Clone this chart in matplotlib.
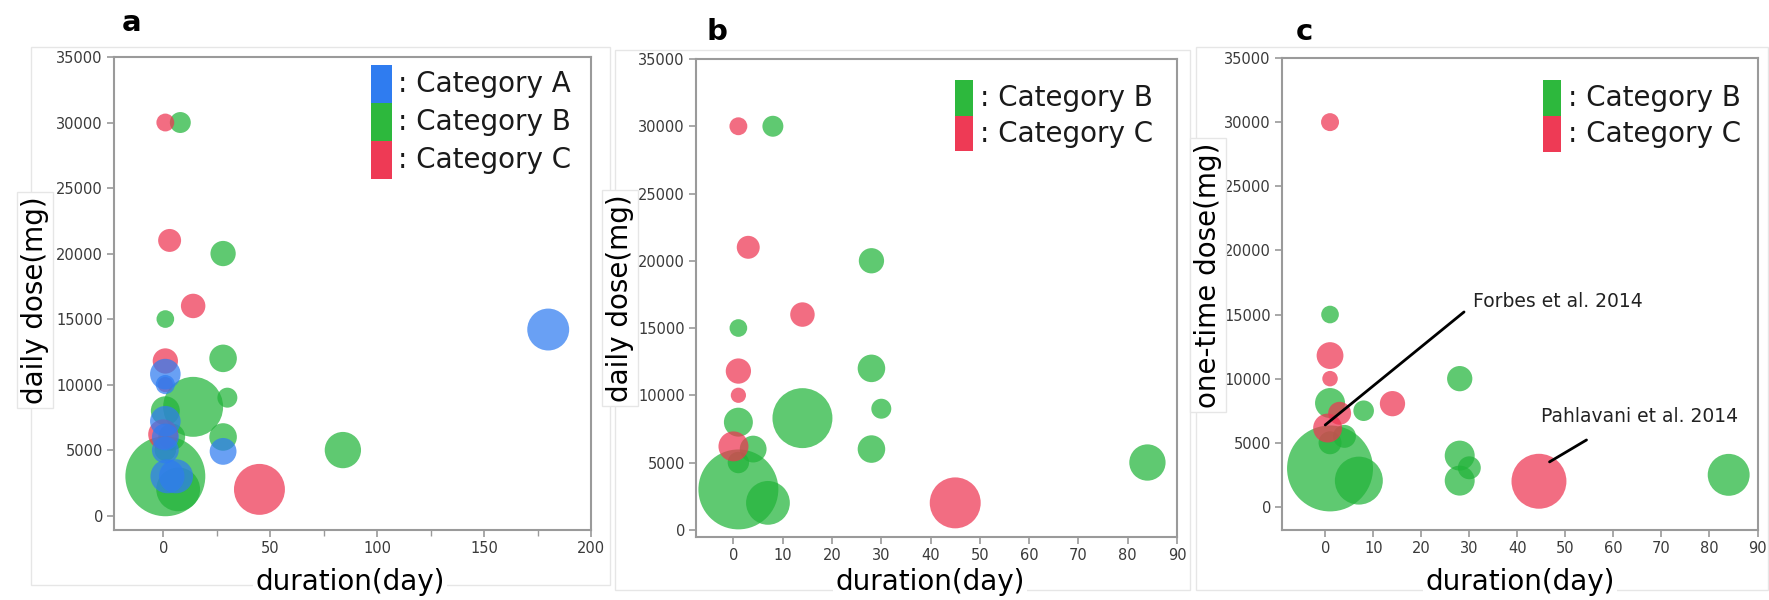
import matplotlib
matplotlib.use("Agg")
import matplotlib.pyplot as plt
from matplotlib.patches import Rectangle
import numpy as np

# ---------------- data ----------------
# bubble value ~ relative size (area) of each study
# Category A (panel a only): duration (day), daily dose (mg), bubble value
a_dur = [180, 1, 1, 1, 1, 1, 2, 6, 28]
a_dose = [14200, 10800, 10000, 7200, 6000, 5000, 3000, 3000, 4900]
a_val = [440, 234, 92, 234, 180, 180, 290, 290, 180]

# Category B, daily dose (panels a, b)
b_dur = [8, 28, 1, 28, 14, 30, 28, 84, 1, 4, 1, 1, 7]
b_dose = [30000, 20000, 15000, 12000, 8300, 9000, 6000, 5000, 8000, 6000, 5000, 3000, 2000]
b_val = [110, 160, 78, 190, 900, 100, 190, 330, 210, 180, 115, 1600, 480]

# Category C, daily dose (panels a, b)
c_dur = [1, 3, 14, 1, 1, 0, 45]
c_dose = [30000, 21000, 16000, 11800, 10000, 6200, 2000]
c_val = [80, 132, 150, 160, 58, 225, 650]

# Category B, one-time dose (panel c)
bo_dur = [1, 28, 1, 8, 4, 1, 1, 7, 28, 30, 28, 84]
bo_dose = [15000, 10000, 8100, 7500, 5500, 5000, 3000, 2050, 4000, 3050, 2050, 2500]
bo_val = [78, 160, 225, 106, 132, 132, 1850, 576, 225, 132, 225, 440]

# Category C, one-time dose (panel c)
co_dur = [1, 1, 1, 14, 3, 0.5, 44.5]
co_dose = [30000, 11800, 10000, 8050, 7300, 6150, 2000]
co_val = [81, 180, 60, 160, 132, 210, 756]

cat_labels = ["Category A", "Category B", "Category C"]
y_ticks = [0, 5000, 10000, 15000, 20000, 25000, 30000, 35000]

# ---------------- style ----------------
W, H = 1769, 600
COL = {"A": "#2f7cf0", "B": "#22b43a", "C": "#ee3552"}
LEG = {"A": "#2f7cf0", "B": "#2db83d", "C": "#ee3a55"}
ALPHA = 0.72
SPINE = "#9a9a9a"
SCALE = 2.07  # bubble value -> points^2

fig = plt.figure(figsize=(W / 100, H / 100), dpi=100)


def fig_rect(x0, y0, x1, y1):
    return [x0 / W, 1 - y1 / H, (x1 - x0) / W, (y1 - y0) / H]


# faint panel frames
for (x0, y0, x1, y1) in [(31, 47, 610, 585), (615, 50, 1190, 590), (1196, 47, 1768, 590)]:
    fig.patches.append(Rectangle((x0 / W, 1 - y1 / H), (x1 - x0) / W, (y1 - y0) / H,
                                 transform=fig.transFigure, fill=False,
                                 edgecolor="#e6e6e6", lw=1.0, zorder=0))


def style_axes(ax, xlim, ylim, xticks, minor=None):
    ax.set_xlim(*xlim)
    ax.set_ylim(*ylim)
    ax.set_xticks(xticks)
    if minor is not None:
        ax.set_xticks(minor, minor=True)
    ax.set_yticks(y_ticks)
    for s in ax.spines.values():
        s.set_color(SPINE)
        s.set_linewidth(1.5)
    ax.tick_params(axis="both", which="major", length=5, width=1.2, color=SPINE,
                   labelsize=10.5, labelcolor="#3a3a3a", pad=3)
    ax.tick_params(axis="x", which="minor", length=4, width=1.0, color=SPINE)
    ax.tick_params(axis="y", which="minor", length=0)


def bubbles(ax, x, y, v, key):
    ax.scatter(x, y, s=np.array(v) * SCALE, color=COL[key], alpha=ALPHA,
               edgecolors="none", zorder=3)


def legend(ax, keys, x0, top, w, h, tx, labels):
    for i, (k, lab) in enumerate(zip(keys, labels)):
        ax.add_patch(Rectangle((x0, top - (i + 1) * h), w, h, transform=ax.transAxes,
                               facecolor=LEG[k], edgecolor="none", zorder=5))
        ax.text(tx, top - (i + 0.5) * h, ": " + lab, transform=ax.transAxes,
                fontsize=20, va="center", ha="left", color="#1a1a1a", zorder=5)


lab_box = dict(boxstyle="square,pad=0.15", facecolor="white", edgecolor="#e6e6e6", lw=1.0)

# ---------------- panel a ----------------
ax = fig.add_axes(fig_rect(114, 57, 591, 530))
bubbles(ax, b_dur, b_dose, b_val, "B")
bubbles(ax, c_dur, c_dose, c_val, "C")
bubbles(ax, a_dur, a_dose, a_val, "A")
style_axes(ax, (-23, 200), (-1100, 35000), [0, 50, 100, 150, 200], [25, 75, 125, 175])
legend(ax, ["A", "B", "C"], 0.539, 0.983, 0.044, 0.0803, 0.595, cat_labels)
fig.text(35 / W, 1 - 300 / H, "daily dose(mg)", rotation=90, fontsize=20,
         ha="center", va="center", bbox=lab_box)
fig.text(350 / W, 1 - 582 / H, "duration(day)", fontsize=20, ha="center", va="center",
         bbox=dict(boxstyle="square,pad=0.1", facecolor="white", edgecolor="none"))
fig.text(122 / W, 1 - 31 / H, "a", fontsize=21, fontweight="bold", ha="left", va="baseline")

# ---------------- panel b ----------------
ax = fig.add_axes(fig_rect(696, 59, 1177, 536.5))
bubbles(ax, b_dur, b_dose, b_val, "B")
bubbles(ax, c_dur, c_dose, c_val, "C")
style_axes(ax, (-7.6, 90), (-500, 35000), list(range(0, 91, 10)))
legend(ax, ["B", "C"], 0.538, 0.956, 0.037, 0.0748, 0.59, cat_labels[1:])
fig.text(620 / W, 1 - 298 / H, "daily dose(mg)", rotation=90, fontsize=20,
         ha="center", va="center", bbox=lab_box)
fig.text(930 / W, 1 - 582 / H, "duration(day)", fontsize=20, ha="center", va="center",
         bbox=dict(boxstyle="square,pad=0.1", facecolor="white", edgecolor="none"))
fig.text(706 / W, 1 - 40 / H, "b", fontsize=21, fontweight="bold", ha="left", va="baseline")

# ---------------- panel c ----------------
ax = fig.add_axes(fig_rect(1282, 58, 1757.5, 530))
bubbles(ax, bo_dur, bo_dose, bo_val, "B")
bubbles(ax, co_dur, co_dose, co_val, "C")
style_axes(ax, (-9, 90), (-1800, 35000), list(range(0, 91, 10)))
legend(ax, ["B", "C"], 0.549, 0.953, 0.038, 0.0757, 0.601, cat_labels[1:])
ax.annotate("", xy=(0, 6390), xytext=(28.9, 15200),
            arrowprops=dict(arrowstyle="-", lw=2, color="black", shrinkA=0, shrinkB=0), zorder=6)
ax.text(30.8, 15980, "Forbes et al. 2014", fontsize=13.5, va="center", ha="left", color="#222222")
ax.annotate("", xy=(46.7, 3510), xytext=(54.4, 5220),
            arrowprops=dict(arrowstyle="-", lw=2, color="black", shrinkA=0, shrinkB=0), zorder=6)
ax.text(45, 7015, "Pahlavani et al. 2014", fontsize=13.5, va="center", ha="left", color="#222222")
fig.text(1208 / W, 1 - 275 / H, "one-time dose(mg)", rotation=90, fontsize=20,
         ha="center", va="center", bbox=lab_box)
fig.text(1520 / W, 1 - 582 / H, "duration(day)", fontsize=20, ha="center", va="center",
         bbox=dict(boxstyle="square,pad=0.1", facecolor="white", edgecolor="none"))
fig.text(1296 / W, 1 - 40 / H, "c", fontsize=21, fontweight="bold", ha="left", va="baseline")

fig.savefig("out.png", dpi=100, facecolor="white")
